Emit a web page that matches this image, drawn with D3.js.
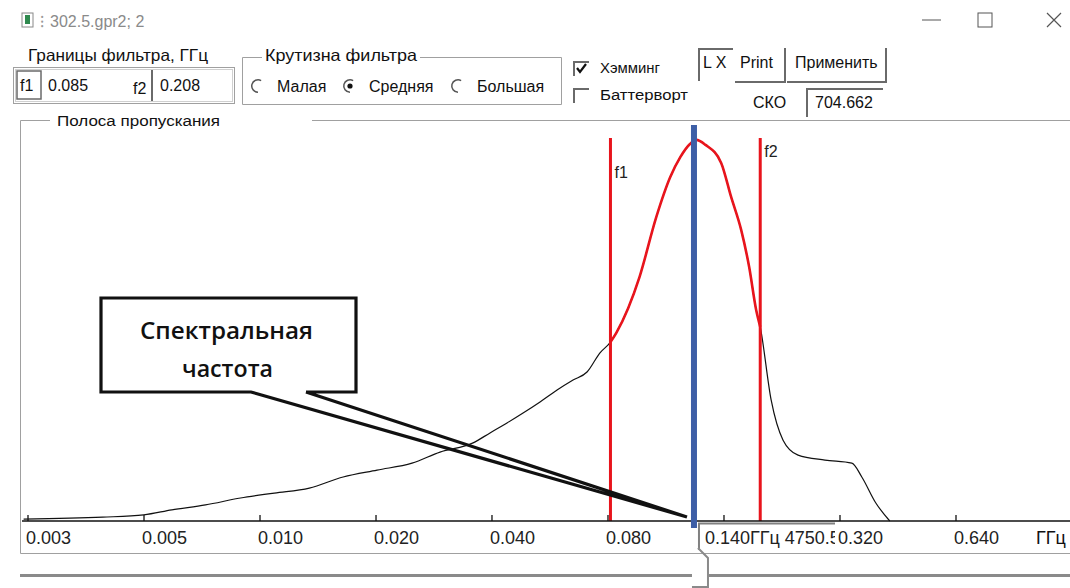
<!DOCTYPE html>
<html>
<head>
<meta charset="utf-8">
<script src="https://cdn.jsdelivr.net/npm/d3@7"></script>
<style>
  html, body { margin: 0; padding: 0; background: #fff; }
  svg { display: block; font-family: "Liberation Sans", Arial, sans-serif; }
</style>
</head>
<body>
<svg id="chart" width="1070" height="588"></svg>
<script>
// spectrum: frequency (GHz) and relative amplitude
const freq = [0.00255, 0.00409, 0.00523, 0.00618, 0.00756, 0.00932, 0.01141, 0.01406,
  0.01721, 0.02108, 0.02597, 0.0307, 0.0374, 0.04139, 0.04581, 0.05042, 0.0558,
  0.06178, 0.06797, 0.07389, 0.07984, 0.085, 0.0881, 0.1011, 0.1118, 0.1215, 0.1290,
  0.1369, 0.1420, 0.1500, 0.1647, 0.1748, 0.1856, 0.1947, 0.2030, 0.208, 0.2220,
  0.2384, 0.2607, 0.3062, 0.3596, 0.3816, 0.4150, 0.4510];
const ampl = [0.005, 0.010, 0.016, 0.029, 0.042, 0.060, 0.073, 0.086,
  0.115, 0.133, 0.151, 0.180, 0.204, 0.230, 0.256, 0.282, 0.311,
  0.342, 0.368, 0.389, 0.439, 0.467, 0.492, 0.637, 0.794, 0.898, 0.950,
  0.985, 0.995, 0.982, 0.935, 0.846, 0.760, 0.663, 0.551, 0.507, 0.316,
  0.211, 0.172, 0.159, 0.151, 0.115, 0.047, 0.000];

const f1 = 0.085, f2 = 0.208;     // filter bounds
const fSpec = 0.140;              // spectral frequency marker
const readout = "0.140ГГц 4750.5";
const sko = "704.662";

// axis ticks as the program places them, with its own rounded labels
// (the 0.16 label sits under the readout box, so it is not shown)
const tickValues = [0.00261, 0.00522, 0.01044, 0.02088, 0.04175, 0.0835, 0.167, 0.334, 0.668];
const tickLabels = ["0.003", "0.005", "0.010", "0.020", "0.040", "0.080", "", "0.320", "0.640"];

const svg = d3.select("#chart");
const gray = "#a0a0a0", dark = "#6a6a6a";

const x = d3.scaleLog().base(2).domain([0.00261, 0.668]).range([27.5, 955.5]);
const y = d3.scaleLinear().domain([0, 1]).range([521, 138]);

// ---------- title bar ----------
svg.append("rect").attr("x", 22).attr("y", 13).attr("width", 11).attr("height", 14)
  .attr("fill", "none").attr("stroke", "#888");
svg.append("rect").attr("x", 25).attr("y", 15).attr("width", 5).attr("height", 9).attr("fill", "#2f8a4f");
svg.append("text").attr("x", 40).attr("y", 27).attr("font-size", 16).attr("fill", "#999").text("⁝");
svg.append("text").attr("x", 50).attr("y", 27).attr("font-size", 16).attr("fill", "#8a8a8a")
  .text("302.5.gpr2; 2");
svg.append("line").attr("x1", 922).attr("x2", 941).attr("y1", 20).attr("y2", 20).attr("stroke", "#555");
svg.append("rect").attr("x", 978).attr("y", 13).attr("width", 14).attr("height", 14)
  .attr("fill", "none").attr("stroke", "#555");
svg.append("path").attr("d", "M1047,13L1061,27M1061,13L1047,27").attr("stroke", "#555").attr("stroke-width", 1.2);

// ---------- controls ----------
function label(tx, ty, s, size, w) {
  const t = svg.append("text").attr("x", tx).attr("y", ty).attr("font-size", size || 16).attr("fill", "#111").text(s);
  if (w) t.attr("textLength", w).attr("lengthAdjust", "spacingAndGlyphs");
  return t;
}
function sunken(x0, y0, x1, y1) { // dark top + left edge
  svg.append("path").attr("d", `M${x0},${y1}V${y0}H${x1}`).attr("fill", "none")
    .attr("stroke", dark).attr("stroke-width", 2);
}
function button(x0, y0, x1, y1, s, tx) {
  svg.append("path").attr("d", `M${x0},${y1}H${x1}V${y0}`).attr("fill", "none")
    .attr("stroke", dark).attr("stroke-width", 2);
  label(tx, 68, s);
}

label(28, 61, "Границы фильтра, ГГц", 16.5, 180);
svg.append("rect").attr("x", 13.5).attr("y", 67.5).attr("width", 221).attr("height", 36)
  .attr("fill", "none").attr("stroke", gray);
svg.append("rect").attr("x", 15.5).attr("y", 69.5).attr("width", 217).attr("height", 32)
  .attr("fill", "none").attr("stroke", "#d0d0d0");
svg.append("rect").attr("x", 17).attr("y", 71).attr("width", 24).attr("height", 28)
  .attr("fill", "none").attr("stroke", dark).attr("stroke-width", 1.5);
label(20, 91, "f1");
label(48, 91, "0.085");
label(133, 94, "f2");
sunken(152, 70, 152, 101);
label(160, 91, "0.208");

svg.append("path").attr("d", "M262,57.5H242.5V104.5H561.5V57.5H420")
  .attr("fill", "none").attr("stroke", gray);
label(265, 61, "Крутизна фильтра", 16.5, 152);
const radios = [["Малая", 258, false], ["Средняя", 350, true], ["Большая", 458, false]];
radios.forEach(([s, cx, on]) => {
  const arc = d3.arc().innerRadius(5.5).outerRadius(7);
  svg.append("path").attr("transform", `translate(${cx},86)`)
    .attr("d", arc({ startAngle: -Math.PI, endAngle: Math.PI / 6 })).attr("fill", "#555");
  if (on) svg.append("circle").attr("cx", cx).attr("cy", 86).attr("r", 2.6).attr("fill", "#111");
  label(cx + 19, 92, s);
});

[[62, "Хэмминг", true, 60], [89, "Баттерворт", false, 88]].forEach(([cy, s, on, w]) => {
  sunken(574, cy, 589, cy + 14);
  if (on) svg.append("path").attr("d", `M577,${cy + 6}l3,4l6,-8`).attr("fill", "none")
    .attr("stroke", "#111").attr("stroke-width", 2.2);
  label(600, cy + 11, s, 15.5, w);
});

sunken(699, 49, 733, 81);
label(703, 68, "L X");
button(735, 48, 785, 82, "Print", 740);
button(787, 48, 886, 82, "Применить", 795);
label(753, 108, "СКО");
sunken(807, 89, 883, 117);
label(815, 108, sko);

// ---------- group box ----------
svg.append("path").attr("d", "M50,120.5H20.5V553.5H1070M312,120.5H1070")
  .attr("fill", "none").attr("stroke", gray);
label(57, 126, "Полоса пропускания", 15.5, 163);

// ---------- spectrum ----------
const pts = freq.map((f, i) => ({ f, a: ampl[i] }));
const line = d3.line().x(d => x(d.f)).y(d => y(d.a)).curve(d3.curveMonotoneX);

svg.append("path").attr("d", line(pts)).attr("fill", "none").attr("stroke", "#111").attr("stroke-width", 1.2);
svg.append("path").attr("d", line(pts.filter(d => d.f >= f1 && d.f <= f2)))
  .attr("fill", "none").attr("stroke", "#e8141c").attr("stroke-width", 2.6);

[[f1, "f1", 178], [f2, "f2", 157]].forEach(([f, s, ly]) => {
  svg.append("line").attr("x1", x(f)).attr("x2", x(f)).attr("y1", y(1)).attr("y2", y(0))
    .attr("stroke", "#e8141c").attr("stroke-width", 3);
  svg.append("text").attr("x", x(f) + 4).attr("y", ly).attr("font-size", 16).attr("fill", "#222").text(s);
});

// ---------- axis ----------
const ax = svg.append("g").attr("transform", `translate(0,${y(0)})`)
  .call(d3.axisBottom(x).tickValues(tickValues)
    .tickFormat(d => tickLabels[tickValues.indexOf(d)])
    .tickSizeInner(-6).tickSizeOuter(0).tickPadding(10));
ax.select(".domain").remove();
ax.selectAll(".tick line").attr("stroke", "#111").attr("stroke-width", 1.3);
ax.selectAll(".tick text").attr("text-anchor", "start").attr("dx", -2)
  .attr("font-family", "Liberation Sans, Arial, sans-serif").attr("font-size", 18).attr("fill", "#222");
svg.append("line").attr("x1", 22).attr("x2", 1070).attr("y1", y(0)).attr("y2", y(0))
  .attr("stroke", "#111").attr("stroke-width", 1.5);
label(1036, 544, "ГГц", 18);

// readout box under the marker, cut off just before the 0.320 label
const rx0 = x(fSpec) + 5, rx1 = 835;
svg.append("rect").attr("x", rx0).attr("y", y(0) + 2).attr("width", rx1 - rx0).attr("height", 28).attr("fill", "#fff");
svg.append("path").attr("d", `M${rx0},${y(0) + 29}V${y(0) + 2.5}H${rx1}`)
  .attr("fill", "none").attr("stroke", "#808080").attr("stroke-width", 2);
svg.append("clipPath").attr("id", "rclip").append("rect")
  .attr("x", rx0).attr("y", y(0)).attr("width", rx1 - rx0).attr("height", 30);
svg.append("text").attr("clip-path", "url(#rclip)").attr("x", rx0 + 6).attr("y", 544)
  .attr("font-size", 18).attr("fill", "#222").text(readout);

// spectral frequency marker
svg.append("line").attr("x1", x(fSpec)).attr("x2", x(fSpec)).attr("y1", y(1) - 13).attr("y2", y(0) + 7)
  .attr("stroke", "#3d5ea6").attr("stroke-width", 6);

// ---------- scrollbar ----------
const sx = x(fSpec);
svg.append("path").attr("d", `M20,575.5H${sx - 2}M${sx + 15},575.5H1070`)
  .attr("stroke", "#8a8a8a").attr("stroke-width", 3);
svg.append("path").attr("d", `M${sx + 4},548L${sx + 14},558V587H${sx - 2}`)
  .attr("fill", "none").attr("stroke", "#8a8a8a").attr("stroke-width", 2);

// ---------- callout ----------
const tip = [x(fSpec) - 7, y(0) - 4];
svg.append("rect").attr("x", 101).attr("y", 298).attr("width", 255).attr("height", 94)
  .attr("fill", "#fff");
svg.append("path")
  .attr("d", `M306,392H356V298H101V392H251L${tip[0]},${tip[1]}L306,392`)
  .attr("fill", "none").attr("stroke", "#111").attr("stroke-width", 3.2).attr("stroke-linejoin", "miter");
svg.append("text").attr("x", 140).attr("y", 339).attr("font-family", "Open Sans, sans-serif")
  .attr("font-weight", 600).attr("font-size", 24).attr("textLength", 173).attr("lengthAdjust", "spacingAndGlyphs")
  .attr("fill", "#111").text("Спектральная");
svg.append("text").attr("x", 182).attr("y", 377).attr("font-family", "Open Sans, sans-serif")
  .attr("font-weight", 600).attr("font-size", 24).attr("textLength", 91).attr("lengthAdjust", "spacingAndGlyphs")
  .attr("fill", "#111").text("частота");
</script>
</body>
</html>
